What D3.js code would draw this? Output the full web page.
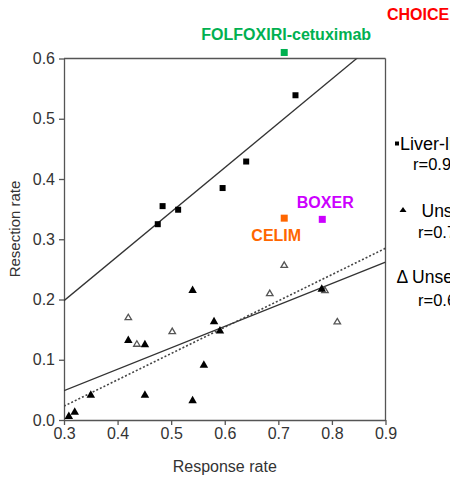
<!DOCTYPE html>
<html>
<head>
<meta charset="utf-8">
<script src="https://cdn.jsdelivr.net/npm/d3@7"></script>
<style>
  body { margin: 0; background: #fff; overflow: hidden; }
  svg text { font-family: "Liberation Sans", Arial, sans-serif; }
</style>
</head>
<body>
<svg id="chart"></svg>
<script>
// Liver-limited trials (filled squares)
const liverX = [0.475, 0.484, 0.513, 0.596, 0.640, 0.732];
const liverY = [0.325, 0.355, 0.349, 0.385, 0.429, 0.539];

// Unselected trials (filled triangles)
const unselX = [0.309, 0.320, 0.350, 0.420, 0.451, 0.451, 0.540, 0.540, 0.561, 0.580, 0.591, 0.781];
const unselY = [0.008, 0.015, 0.043, 0.134, 0.127, 0.043, 0.217, 0.034, 0.093, 0.165, 0.150, 0.219];

// Unselected trials, other group (open triangles)
const openX = [0.420, 0.436, 0.502, 0.684, 0.711, 0.787, 0.810];
const openY = [0.171, 0.127, 0.148, 0.211, 0.258, 0.216, 0.164];

// regression lines: [intercept, slope]
const fitLiver = [-0.0228, 0.736];
const fitUnsel = [-0.0581, 0.3557];
const fitOpen = [-0.108, 0.4367];

// highlighted trials
const trialNames = ["FOLFOXIRI-cetuximab", "CELIM", "BOXER"];
const trialX = [0.711, 0.711, 0.782];
const trialY = [0.610, 0.335, 0.333];
const extraLabel = "CHOICE";

const xTicks = [0.3, 0.4, 0.5, 0.6, 0.7, 0.8, 0.9];
const yTicks = [0.0, 0.1, 0.2, 0.3, 0.4, 0.5, 0.6];

const legendLabels = ["Liver-limited", "Unselected", "Unselected"];
const legendR = ["r=0.96", "r=0.74", "r=0.67"];

const W = 450, H = 478;
const margin = {left: 64, top: 58.5, right: 64.5, bottom: 58};
const width = W - margin.left - margin.right,
      height = H - margin.top - margin.bottom;

const svg = d3.select("#chart").attr("width", W).attr("height", H);

const x = d3.scaleLinear().domain([0.3, 0.9]).range([margin.left, margin.left + width]);
const y = d3.scaleLinear().domain([0, 0.6]).range([margin.top + height, margin.top]);

const axisColor = "#555";

svg.append("defs").append("clipPath").attr("id", "plotclip")
    .append("rect")
    .attr("x", x(0.3)).attr("y", y(0.6))
    .attr("width", width).attr("height", height);

// box top + right
svg.append("line")
    .attr("x1", x(0.3)).attr("x2", x(0.9)).attr("y1", y(0.6)).attr("y2", y(0.6))
    .attr("stroke", axisColor).attr("stroke-width", 1.3);
svg.append("line")
    .attr("x1", x(0.9)).attr("x2", x(0.9)).attr("y1", y(0.6)).attr("y2", y(0))
    .attr("stroke", axisColor).attr("stroke-width", 1.3);

// x axis
const xAxis = svg.append("g")
    .attr("transform", "translate(0," + y(0) + ")")
    .call(d3.axisBottom(x).tickValues(xTicks).tickFormat(d3.format(".1f")).tickSize(5).tickSizeOuter(0).tickPadding(3));
// y axis
const yAxis = svg.append("g")
    .attr("transform", "translate(" + x(0.3) + ",0)")
    .call(d3.axisLeft(y).tickValues(yTicks).tickFormat(d3.format(".1f")).tickSize(5).tickSizeOuter(0).tickPadding(4));

[xAxis, yAxis].forEach(g => {
    g.selectAll("path.domain").attr("stroke", axisColor).attr("stroke-width", 1.3);
    g.selectAll(".tick line").attr("stroke", axisColor).attr("stroke-width", 1.3);
    g.selectAll(".tick text")
        .attr("fill", "#333")
        .style("font-size", "16px")
        .style("font-family", "'Liberation Sans', Arial, sans-serif");
});

// axis titles
svg.append("text")
    .attr("x", (x(0.3) + x(0.9)) / 2)
    .attr("y", 472)
    .attr("text-anchor", "middle")
    .attr("fill", "#333")
    .style("font-size", "16px")
    .text("Response rate");

svg.append("text")
    .attr("transform", "translate(20," + 229 + ") rotate(-90)")
    .attr("text-anchor", "middle")
    .attr("fill", "#333")
    .style("font-size", "15px")
    .text("Resection rate");

// regression lines
const plot = svg.append("g").attr("clip-path", "url(#plotclip)");
function fitLine(fit) {
    return [[0.3, fit[0] + fit[1] * 0.3], [0.9, fit[0] + fit[1] * 0.9]];
}
const lineGen = d3.line().x(d => x(d[0])).y(d => y(d[1]));

plot.append("path").attr("d", lineGen(fitLine(fitLiver)))
    .attr("fill", "none").attr("stroke", "#333").attr("stroke-width", 1.3);
plot.append("path").attr("d", lineGen(fitLine(fitUnsel)))
    .attr("fill", "none").attr("stroke", "#333").attr("stroke-width", 1.3);
plot.append("path").attr("d", lineGen(fitLine(fitOpen)))
    .attr("fill", "none").attr("stroke", "#444").attr("stroke-width", 1.6)
    .attr("stroke-dasharray", "2,2");

// triangle path centred on (0,0)
function tri(w, h) {
    return "M0," + (-h / 2) + "L" + (w / 2) + "," + (h / 2) + "L" + (-w / 2) + "," + (h / 2) + "Z";
}

// open triangles
svg.append("g").selectAll("path")
    .data(openX.map((d, i) => ({x: d, y: openY[i]})))
    .enter().append("path")
    .attr("d", tri(6.5, 5.5))
    .attr("transform", d => "translate(" + x(d.x) + "," + y(d.y) + ")")
    .attr("fill", "#fff").attr("stroke", "#555").attr("stroke-width", 1.3);

// filled triangles
svg.append("g").selectAll("path")
    .data(unselX.map((d, i) => ({x: d, y: unselY[i]})))
    .enter().append("path")
    .attr("d", tri(8.5, 7.5))
    .attr("transform", d => "translate(" + x(d.x) + "," + y(d.y) + ")")
    .attr("fill", "#000");

// liver-limited squares
const sq = 6;
svg.append("g").selectAll("rect")
    .data(liverX.map((d, i) => ({x: d, y: liverY[i]})))
    .enter().append("rect")
    .attr("x", d => x(d.x) - sq / 2)
    .attr("y", d => y(d.y) - sq / 2)
    .attr("width", sq).attr("height", sq)
    .attr("fill", "#000");

// highlighted trials
const trialColors = ["#00b050", "#ff6600", "#cc00ff"];
const labelOffset = [[2, -12], [-8, 23], [3, -11]]; // dx, dy of label baseline
const trials = trialNames.map((n, i) => ({name: n, x: trialX[i], y: trialY[i], c: trialColors[i], o: labelOffset[i]}));

svg.append("g").selectAll("rect")
    .data(trials)
    .enter().append("rect")
    .attr("x", d => x(d.x) - 3.5)
    .attr("y", d => y(d.y) - 3.5)
    .attr("width", 7).attr("height", 7)
    .attr("fill", d => d.c);

svg.append("g").selectAll("text")
    .data(trials)
    .enter().append("text")
    .attr("x", d => x(d.x) + d.o[0])
    .attr("y", d => y(d.y) + d.o[1])
    .attr("text-anchor", "middle")
    .attr("fill", d => d.c)
    .style("font-size", "16px")
    .style("font-weight", "bold")
    .text(d => d.name);

svg.append("text")
    .attr("x", 387).attr("y", 20)
    .attr("fill", "#ff0000")
    .style("font-size", "16px")
    .style("font-weight", "bold")
    .text(extraLabel);

// legend (runs off the right edge, as in the source figure)
const lg = svg.append("g").attr("fill", "#000").style("font-size", "16px");
lg.append("rect").attr("x", 395).attr("y", 141.5).attr("width", 4).attr("height", 4);
lg.append("text").attr("x", 400).attr("y", 150).style("font-size", "18px").text(legendLabels[0]);
lg.append("text").attr("x", 413).attr("y", 170).style("font-size", "16.5px").text(legendR[0]);

lg.append("path").attr("d", tri(7, 5)).attr("transform", "translate(403,209.5)");
lg.append("text").attr("x", 421.5).attr("y", 216.5).style("font-size", "17.5px").text(legendLabels[1]);
lg.append("text").attr("x", 418).attr("y", 237.5).style("font-size", "16.5px").text(legendR[1]);

lg.append("text").attr("x", 396.5).attr("y", 283).style("font-size", "17.5px").text("\u0394 " + legendLabels[2]);
lg.append("text").attr("x", 418).attr("y", 306).style("font-size", "16.5px").text(legendR[2]);
</script>
</body>
</html>
